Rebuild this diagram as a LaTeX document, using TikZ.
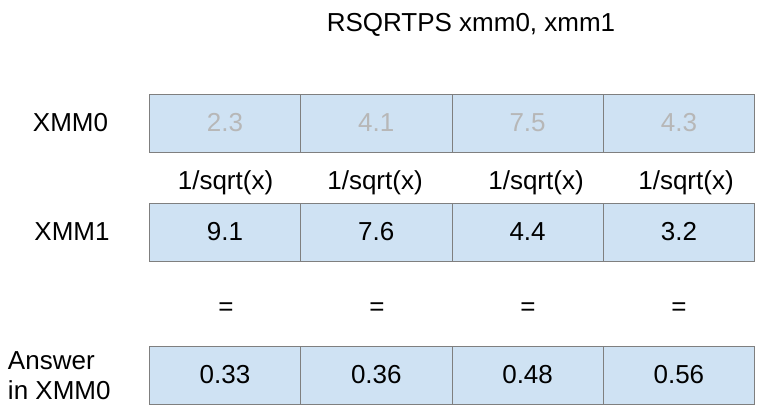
\documentclass[tikz,border=0pt]{standalone}
\usepackage{fontspec}
\setmainfont{Liberation Sans}
\definecolor{cellfill}{HTML}{CFE2F3}
\definecolor{cellline}{HTML}{7F7F7F}
\definecolor{fadedtext}{HTML}{B7B7B7}
\begin{document}
\begin{tikzpicture}[x=1pt,y=-1pt,
  every node/.style={inner sep=0pt, outer sep=0pt, font=\fontsize{26}{30}\selectfont},
  cell/.style={draw=cellline, line width=0.9pt, fill=cellfill, minimum width=151.3pt, minimum height=58pt, anchor=center},
  faded/.style={text=fadedtext},
  lbl/.style={anchor=center}]
\useasboundingbox (0,0) rectangle (763,414);
\node[lbl] (title) at (471,25) {RSQRTPS xmm0, xmm1};
\node[lbl] (l0) at (70.5,123) {XMM0};
\node[lbl] (l1) at (72,232) {XMM1};
\node[anchor=north west, align=left, font=\fontsize{26}{30}\selectfont] (l2) at (8,352) {Answer\\in XMM0};
% row XMM0
\node[cell,faded] (a1) at (225,123) {2.3};
\node[cell,faded] (a2) at (376.3,123) {4.1};
\node[cell,faded] (a3) at (527.6,123) {7.5};
\node[cell,faded] (a4) at (678.9,123) {4.3};
% ops
\node[lbl] (s1) at (225.5,183) {1/sqrt(x)};
\node[lbl] (s2) at (375,183) {1/sqrt(x)};
\node[lbl] (s3) at (536,183) {1/sqrt(x)};
\node[lbl] (s4) at (686,183) {1/sqrt(x)};
% row XMM1
\node[cell] (b1) at (225,232) {9.1};
\node[cell] (b2) at (376.3,232) {7.6};
\node[cell] (b3) at (527.6,232) {4.4};
\node[cell] (b4) at (678.9,232) {3.2};
% equals
\node[lbl] (e1) at (226,309) {=};
\node[lbl] (e2) at (377,309) {=};
\node[lbl] (e3) at (528,309) {=};
\node[lbl] (e4) at (679,309) {=};
% answer row
\node[cell] (c1) at (225,375) {0.33};
\node[cell] (c2) at (376.3,375) {0.36};
\node[cell] (c3) at (527.6,375) {0.48};
\node[cell] (c4) at (678.9,375) {0.56};
\end{tikzpicture}
\end{document}
